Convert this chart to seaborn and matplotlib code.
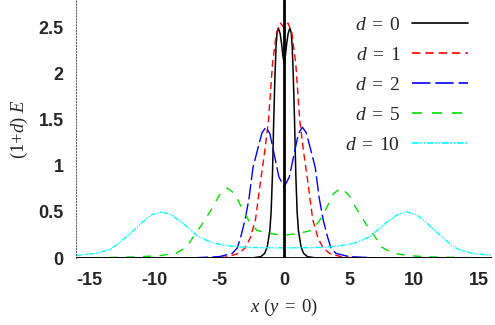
import numpy as np
import pandas as pd
import matplotlib
matplotlib.use("Agg")
import matplotlib.pyplot as plt
import seaborn as sns

# half-profiles (x >= 0); curves are symmetric in x
x_d0 = [0.0, 0.1, 0.2, 0.3, 0.4, 0.46, 0.55, 0.62, 0.7, 0.8, 0.9, 1.0, 1.1,
        1.3, 1.5, 1.8, 2.5, 16.0]
e_d0 = [2.11, 2.2, 2.33, 2.43, 2.48, 2.49, 2.44, 2.3, 2.0, 1.5, 0.9, 0.5, 0.3,
        0.12, 0.05, 0.015, 0.0, 0.0]

x_d1 = [0.0, 0.3, 0.6, 0.9, 1.2, 1.5, 1.8, 2.2, 2.6, 3.0, 3.5, 4.5, 6.0, 16.0]
e_d1 = [2.5, 2.55, 2.44, 2.1, 1.5, 1.15, 0.85, 0.42, 0.22, 0.11, 0.05, 0.01,
        0.0, 0.0]

x_d2 = [0.0, 0.4, 0.8, 1.1, 1.4, 1.7, 2.0, 2.4, 2.7, 3.0, 3.3, 3.6, 4.0, 5.0,
        7.0, 10.0, 16.0]
e_d2 = [0.77, 0.88, 1.15, 1.35, 1.42, 1.36, 1.2, 0.98, 0.65, 0.42, 0.25, 0.11,
        0.05, 0.015, 0.003, 0.0, 0.0]

x_d5 = [0.0, 0.8, 1.5, 2.1, 2.7, 3.25, 3.8, 4.4, 5.0, 5.5, 6.25, 6.9, 7.5,
        8.3, 9.6, 11.5, 14.0, 16.0]
e_d5 = [0.25, 0.26, 0.28, 0.3, 0.4, 0.54, 0.7, 0.76, 0.68, 0.55, 0.38, 0.25,
        0.12, 0.055, 0.025, 0.012, 0.005, 0.003]

x_d10 = [0.0, 1.5, 2.9, 4.15, 5.4, 6.0, 6.7, 7.3, 8.0, 8.7, 9.45, 10.2, 10.9,
         11.5, 12.15, 12.8, 13.4, 14.5, 16.0]
e_d10 = [0.11, 0.112, 0.116, 0.13, 0.16, 0.195, 0.24, 0.32, 0.40, 0.47, 0.50,
         0.47, 0.39, 0.31, 0.23, 0.15, 0.094, 0.05, 0.028]

labels = ["0", "1", "2", "5", "10"]
colors = ["black", "#ff0000", "#0000ff", "#00e000", "#00ffff"]
styles = ["-", (0, (5, 3)), (0, (11, 3)), (0, (6, 6)), (0, (4, 1, 1, 1, 1, 1))]
widths = [1.1, 1.0, 1.0, 1.0, 1.0]

xticks = [-15, -10, -5, 0, 5, 10, 15]
yticks = [0, 0.5, 1, 1.5, 2, 2.5]
ytick_labels = ["0", "0.5", "1", "1.5", "2", "2.5"]


def mirror(xs, ys):
    xs = np.asarray(xs, float)
    ys = np.asarray(ys, float)
    return np.concatenate([-xs[:0:-1], xs]), np.concatenate([ys[:0:-1], ys])


sns.set_style("white")
plt.rcParams["mathtext.fontset"] = "custom"
plt.rcParams["mathtext.rm"] = "Liberation Serif"
plt.rcParams["mathtext.it"] = "Liberation Serif:italic"

fig, ax = plt.subplots(figsize=(4.95, 3.25), dpi=100)
fig.subplots_adjust(left=0.154, right=0.994, bottom=0.206, top=1.0)

series = [(x_d0, e_d0), (x_d1, e_d1), (x_d2, e_d2), (x_d5, e_d5), (x_d10, e_d10)]
for (xs, ys), lab, c, ls, lw in zip(series, labels, colors, styles, widths):
    mx, my = mirror(xs, ys)
    df = pd.DataFrame({"x": mx, "E": my})
    sns.lineplot(data=df, x="x", y="E", ax=ax, color=c, linestyle=ls,
                 linewidth=lw, sort=False, estimator=None,
                 label=r"$d\;=\;%s$" % lab)

ax.axvline(0, color="black", linewidth=2.0, zorder=5)
ax.axhline(0, color="black", linewidth=2.0, zorder=5)

ax.set_xlim(-16, 16)
ax.set_ylim(0, 2.8)
ax.set_xticks(xticks)
ax.set_xticklabels([str(t) for t in xticks])
ax.set_yticks(yticks)
ax.set_yticklabels(ytick_labels)
for lbl in ax.get_xticklabels() + ax.get_yticklabels():
    lbl.set_fontfamily("Liberation Sans")
    lbl.set_fontweight("bold")
    lbl.set_fontsize(13)
ax.tick_params(axis="both", direction="in", length=3, color="#bbbbbb")
ax.tick_params(axis="x", pad=10)
ax.tick_params(axis="y", pad=9)

for s in ["top", "right", "bottom"]:
    ax.spines[s].set_visible(False)
ax.spines["left"].set_linestyle(":")
ax.spines["left"].set_color("#666666")
ax.spines["left"].set_linewidth(0.8)

ax.set_xlabel(r"$x\ (y\;=\;0)$", fontsize=13.5, labelpad=6)
ax.set_ylabel(r"$(1{+}d)\ E$", fontsize=13.5, labelpad=6)

leg = ax.legend(loc="upper right", frameon=False, markerfirst=False,
                fontsize=14, handlelength=2.85, labelspacing=0.57,
                borderaxespad=0.0, borderpad=0.0, handletextpad=0.62,
                bbox_to_anchor=(0.942, 0.943))
for line in leg.get_lines():
    line.set_linewidth(1.2)
for t in leg.get_texts():
    t.set_ha("right")

fig.savefig("out.png", dpi=100)
